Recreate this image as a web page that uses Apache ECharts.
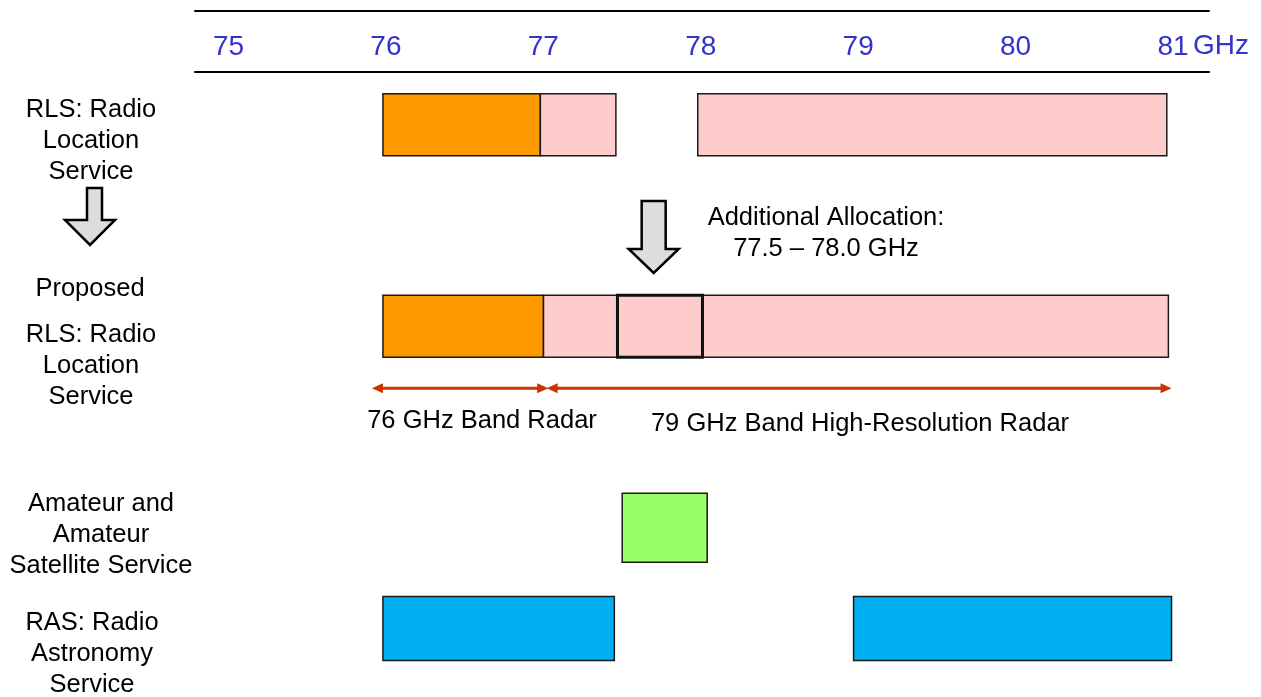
<!DOCTYPE html>
<html>
<head>
<meta charset="utf-8">
<script src="https://cdn.jsdelivr.net/npm/echarts@6/dist/echarts.min.js"></script>
<style>
  html, body { margin: 0; padding: 0; background: #fff; }
  #chart { width: 1261px; height: 697px; }
</style>
</head>
<body>
<div id="chart"></div>
<script>
// ---------- data (GHz) ----------
const tickValues = [75, 76, 77, 78, 79, 80, 81];

// row index of each service lane
const ROW_RLS = 0, ROW_ARROW = 1, ROW_PROPOSED = 2, ROW_AMATEUR = 4, ROW_RAS = 5;

// current RLS allocation
const rlsStart = [76.0, 77.0, 78.0];
const rlsEnd   = [77.0, 77.48, 80.98];
const rlsKind  = ['radar76', 'rls', 'rls'];

// proposed RLS allocation
const proposedStart = [76.0, 77.02];
const proposedEnd   = [77.02, 80.99];
const proposedKind  = ['radar76', 'rls'];

// additional allocation 77.5 - 78.0 GHz (outlined box)
const additionalAllocation = [77.49, 78.03];
const additionalArrowAt = 77.72;

// amateur and amateur satellite service
const amateurStart = [77.52];
const amateurEnd   = [78.06];

// radio astronomy service
const rasStart = [76.0, 78.99];
const rasEnd   = [77.47, 81.01];

// band radar spans (arrows)
const radarSpanStart = [75.93, 77.04];
const radarSpanEnd   = [77.05, 81.01];

// ---------- styling ----------
const KIND_COLOR = { radar76: '#ff9900', rls: '#ffcccc', amateur: '#99ff66', ras: '#00b0f0' };
const FONT = '"Liberation Sans", Arial, sans-serif';
const ARROW_RED = '#cc3300';

function bandItems(starts, ends, kinds, row, kindDefault) {
  return starts.map((s, i) => [s, ends[i], row, kinds ? kinds[i] : kindDefault]);
}
const bandData = []
  .concat(bandItems(rlsStart, rlsEnd, rlsKind, ROW_RLS))
  .concat(bandItems(proposedStart, proposedEnd, proposedKind, ROW_PROPOSED))
  .concat(bandItems(amateurStart, amateurEnd, null, ROW_AMATEUR, 'amateur'))
  .concat(bandItems(rasStart, rasEnd, null, ROW_RAS, 'ras'));

function barHeight(row) {
  if (row === ROW_AMATEUR) return 69;
  if (row === ROW_RAS) return 64;
  return 62;
}

function renderBand(params, api) {
  const s = api.value(0), e = api.value(1), row = api.value(2);
  const kind = bandData[params.dataIndex][3];
  const p0 = api.coord([s, row]);
  const p1 = api.coord([e, row]);
  const h = barHeight(row);
  return {
    type: 'rect',
    shape: { x: p0[0], y: p0[1] - h / 2, width: p1[0] - p0[0], height: h },
    style: { fill: KIND_COLOR[kind], stroke: '#1a1a1a', lineWidth: 1.5 }
  };
}

function renderOutline(params, api) {
  const p0 = api.coord([api.value(0), api.value(2)]);
  const p1 = api.coord([api.value(1), api.value(2)]);
  const h = 62;
  return {
    type: 'rect',
    shape: { x: p0[0], y: p0[1] - h / 2, width: p1[0] - p0[0], height: h },
    style: { fill: 'none', stroke: '#111', lineWidth: 3 }
  };
}

function renderDownArrow(params, api) {
  const c = api.coord([api.value(0), api.value(1)]);
  const x = c[0], y = c[1];
  return {
    type: 'polygon',
    shape: { points: [[x - 12, y - 24.5], [x + 12, y - 24.5], [x + 12, y + 23.5], [x + 25, y + 23.5],
                      [x, y + 47.5], [x - 25, y + 23.5], [x - 12, y + 23.5]] },
    style: { fill: '#dddddd', stroke: '#000', lineWidth: 2.5 }
  };
}

function renderSpan(params, api) {
  const p0 = api.coord([api.value(0), api.value(2)]);
  const p1 = api.coord([api.value(1), api.value(2)]);
  const y = p0[1] + 62;
  const x0 = p0[0], x1 = p1[0];
  const L = 11, W = 5;
  return {
    type: 'group',
    children: [
      { type: 'line', shape: { x1: x0 + L - 1, y1: y, x2: x1 - L + 1, y2: y },
        style: { stroke: ARROW_RED, lineWidth: 3 } },
      { type: 'polygon', shape: { points: [[x0, y], [x0 + L, y - W], [x0 + L, y + W]] },
        style: { fill: ARROW_RED } },
      { type: 'polygon', shape: { points: [[x1, y], [x1 - L, y - W], [x1 - L, y + W]] },
        style: { fill: ARROW_RED } }
    ]
  };
}

const X_MIN = 74.806, X_MAX = 81.248;

const chart = echarts.init(document.getElementById('chart'), null, { renderer: 'canvas' });

function label(text, x, y, extra) {
  return {
    type: 'text', x: x, y: y,
    style: Object.assign({
      text: text, fill: '#000', fontSize: 25.5, fontFamily: FONT,
      align: 'center', verticalAlign: 'middle', lineHeight: 31
    }, extra || {})
  };
}

const option = {
  animation: false,
  backgroundColor: '#ffffff',
  grid: { left: 195, right: 52, top: 72, bottom: 0 },
  xAxis: [
    {
      type: 'value', position: 'top', min: X_MIN, max: X_MAX,
      axisLine: { show: true, onZero: false, lineStyle: { color: '#000', width: 2 } },
      axisTick: { show: false },
      splitLine: { show: false },
      axisLabel: {
        customValues: tickValues,
        margin: 11, color: '#3333cc', fontSize: 28, fontFamily: FONT,
        padding: [0, 0, 0, 6]
      }
    },
    {
      type: 'value', position: 'top', offset: 61, min: X_MIN, max: X_MAX,
      axisLine: { show: true, onZero: false, lineStyle: { color: '#000', width: 2 } },
      axisTick: { show: false }, splitLine: { show: false }, axisLabel: { show: false }
    }
  ],
  yAxis: { type: 'value', inverse: true, min: -0.5237, max: 5.681, show: false },
  series: [
    { type: 'custom', name: 'bands', renderItem: renderBand, data: bandData, clip: false, z: 2 },
    { type: 'custom', name: 'additional', renderItem: renderOutline,
      data: [[additionalAllocation[0], additionalAllocation[1], ROW_PROPOSED]], clip: false, z: 3 },
    { type: 'custom', name: 'arrow', renderItem: renderDownArrow,
      data: [[additionalArrowAt, ROW_ARROW]], clip: false, z: 3 },
    { type: 'custom', name: 'spans', renderItem: renderSpan,
      data: radarSpanStart.map((s, i) => [s, radarSpanEnd[i], ROW_PROPOSED]), clip: false, z: 3 }
  ],
  graphic: [
    label('GHz', 1193, 46, { fontSize: 28, fill: '#3333cc', align: 'left' }),
    label('RLS: Radio\nLocation\nService', 91, 141),
    {
      type: 'polygon',
      shape: { points: [[87, 188], [102, 188], [102, 220], [115, 220], [90, 245], [65, 220], [87, 220]] },
      style: { fill: '#dddddd', stroke: '#000', lineWidth: 2.5 }
    },
    label('Proposed', 90, 289),
    label('RLS: Radio\nLocation\nService', 91, 366),
    label('Additional Allocation:\n77.5 – 78.0 GHz', 826, 233),
    label('76 GHz Band Radar', 482, 421),
    label('79 GHz Band High-Resolution Radar', 860, 424),
    label('Amateur and\nAmateur\nSatellite Service', 101, 535),
    label('RAS: Radio\nAstronomy\nService', 92, 654)
  ]
};
chart.setOption(option);
</script>
</body>
</html>
